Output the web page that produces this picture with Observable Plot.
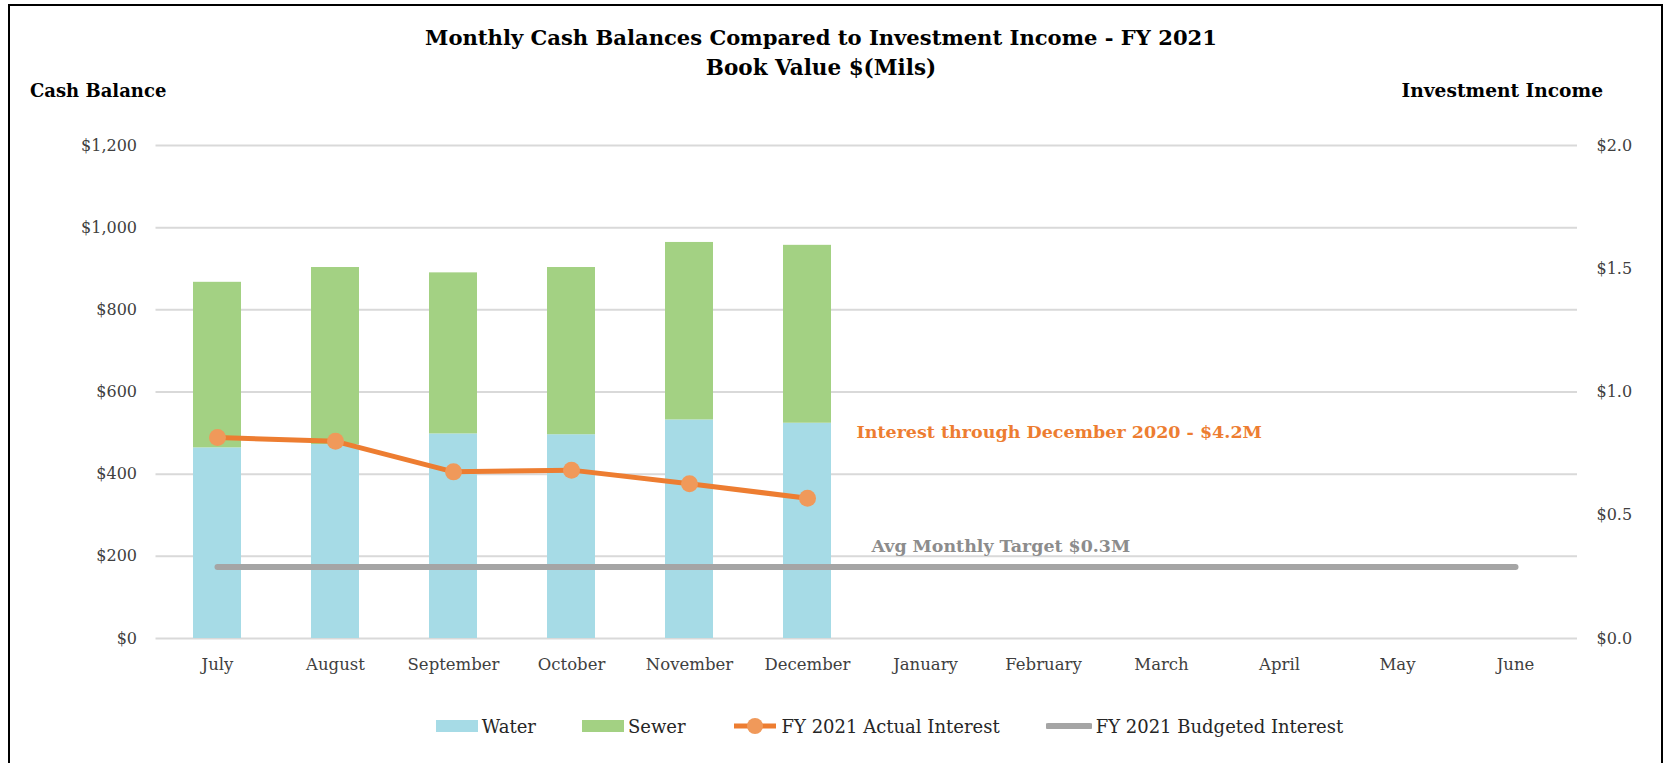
<!DOCTYPE html>
<html><head><meta charset="utf-8">
<script src="https://cdn.jsdelivr.net/npm/d3@7"></script>
<script src="https://cdn.jsdelivr.net/npm/@observablehq/plot@0.6"></script>
<style>
body{margin:0;background:#fff;}
#wrap{position:relative;width:1665px;height:763px;overflow:hidden;background:#fff;font-family:"DejaVu Serif",serif;}
#frame{position:absolute;left:8px;top:4px;width:1655px;height:800px;border:2px solid #000;box-sizing:border-box;}
.t{position:absolute;white-space:nowrap;color:#000;font-weight:bold;line-height:1;}
#chart{position:absolute;left:0;top:100px;}
#legend{position:absolute;left:0;width:1779px;top:714px;height:24px;display:flex;justify-content:center;align-items:center;gap:46px;font-size:18px;color:#262626;}
.item{display:flex;align-items:center;gap:4px;}
.sw{width:42px;height:12px;display:inline-block;}
</style></head>
<body>
<div id="wrap">
  <div id="frame"></div>
  <div class="t" id="title" style="left:0;width:1642px;text-align:center;top:27px;font-size:21.1px;"></div>
  <div class="t" id="subtitle" style="left:0;width:1642px;text-align:center;top:57px;font-size:21.5px;"></div>
  <div class="t" id="ylabL" style="left:30px;top:82px;font-size:18px;"></div>
  <div class="t" id="ylabR" style="right:62px;top:82px;font-size:18.6px;"></div>
  <div id="chart"></div>
  <div id="legend"></div>
</div>
<script>
// ---- data ----
const titleText = "Monthly Cash Balances Compared to Investment Income - FY 2021";
const subtitleText = "Book Value $(Mils)";
const leftAxisTitle = "Cash Balance";
const rightAxisTitle = "Investment Income";
const months = ["July","August","September","October","November","December","January","February","March","April","May","June"];
const water = [464, 472, 498, 496, 532, 524];
const sewer = [403, 431, 392, 407, 432, 433];
const actualInterest = [0.815, 0.800, 0.676, 0.683, 0.628, 0.569];
const budgetedInterest = [0.29, 0.29, 0.29, 0.29, 0.29, 0.29, 0.29, 0.29, 0.29, 0.29, 0.29, 0.29];
const cashTicks = [0, 200, 400, 600, 800, 1000, 1200];
const incomeTicks = [0, 0.5, 1.0, 1.5, 2.0];
const seriesNames = ["Water", "Sewer", "FY 2021 Actual Interest", "FY 2021 Budgeted Interest"];
const seriesColors = ["#A6DBE6", "#A3D183", "#ED7D31", "#A5A5A5"];
const markerColor = "#F0995A";
const annotationTexts = ["Interest through December 2020 - $4.2M", "Avg Monthly Target $0.3M"];
const annotationMonths = ["December", "December"];
const annotationValues = [0.837, 0.374];
const annotationOffsets = [49, 64];
const annotationColors = ["#ED7D31", "#8C8C8C"];

// ---- derived ----
const cashMax = cashTicks[cashTicks.length - 1];
const incomeMax = incomeTicks[incomeTicks.length - 1];
const k = cashMax / incomeMax; // income -> cash-axis units

const barRows = [];
water.forEach((v, i) => {
  barRows.push({month: months[i], type: "Water", value: v});
  barRows.push({month: months[i], type: "Sewer", value: sewer[i]});
});
const actualRows = actualInterest.map((v, i) => ({month: months[i], value: v}));
const budgetRows = budgetedInterest.map((v, i) => ({month: months[i], value: v}));
const annRows = annotationTexts.map((t, i) => ({text: t, month: annotationMonths[i], value: annotationValues[i], color: annotationColors[i], dx: annotationOffsets[i]}));

document.getElementById("title").textContent = titleText;
document.getElementById("subtitle").textContent = subtitleText;
document.getElementById("ylabL").textContent = leftAxisTitle;
document.getElementById("ylabR").textContent = rightAxisTitle;

const fmtCash = d => "$" + d3.format(",")(d);

const chart = Plot.plot({
  width: 1665,
  height: 600,
  marginLeft: 155.5,
  marginRight: 88,
  marginTop: 45,
  marginBottom: 62,
  style: {fontFamily: "DejaVu Serif", fontSize: "16px", color: "#404040", background: "transparent"},
  x: {domain: months, paddingInner: 0.59, paddingOuter: 0.295, label: null},
  y: {domain: [0, cashMax], label: null},
  color: {domain: ["Water", "Sewer"], range: seriesColors.slice(0, 2)},
  marks: [
    Plot.gridY(cashTicks, {stroke: "#D9D9D9", strokeOpacity: 1, strokeWidth: 2}),
    Plot.barY(barRows, {x: "month", y: "value", fill: "type", order: ["Water", "Sewer"]}),
    Plot.line(budgetRows, {x: "month", y: d => d.value * k, stroke: seriesColors[3], strokeWidth: 6, strokeLinecap: "round"}),
    Plot.line(actualRows, {x: "month", y: d => d.value * k, stroke: seriesColors[2], strokeWidth: 5}),
    Plot.dot(actualRows, {x: "month", y: d => d.value * k, r: 8.5, fill: markerColor, stroke: null}),
    Plot.text(annRows.slice(0, 1), {x: "month", y: d => d.value * k, text: "text", fill: "color", textAnchor: "start", dx: annotationOffsets[0], fontWeight: "bold", fontSize: 17.5}),
    Plot.text(annRows.slice(1), {x: "month", y: d => d.value * k, text: "text", fill: "color", textAnchor: "start", dx: annotationOffsets[1], fontWeight: "bold", fontSize: 17.4}),
    Plot.axisY({anchor: "left", ticks: cashTicks, tickFormat: fmtCash, tickSize: 0, tickPadding: 19, label: null}),
    Plot.axisY({anchor: "right", ticks: incomeTicks.map(d => d * k), tickFormat: d => "$" + (d / k).toFixed(1), tickSize: 0, tickPadding: 19, label: null}),
    Plot.axisX({tickSize: 0, tickPadding: 20, label: null, fontSize: 16.5})
  ]
});
document.getElementById("chart").appendChild(chart);

// legend
const legend = document.getElementById("legend");
seriesNames.forEach((name, i) => {
  const item = document.createElement("div");
  item.className = "item";
  if (i < 2) {
    const sw = document.createElement("span");
    sw.className = "sw";
    sw.style.background = seriesColors[i];
    item.appendChild(sw);
  } else {
    const ns = "http://www.w3.org/2000/svg";
    const svg = document.createElementNS(ns, "svg");
    svg.setAttribute("width", 46); svg.setAttribute("height", 20);
    const ln = document.createElementNS(ns, "line");
    ln.setAttribute("x1", 2); ln.setAttribute("x2", 44); ln.setAttribute("y1", 10); ln.setAttribute("y2", 10);
    ln.setAttribute("stroke", seriesColors[i]); ln.setAttribute("stroke-width", i === 2 ? 5 : 6);
    ln.setAttribute("stroke-linecap", i === 2 ? "butt" : "round");
    svg.appendChild(ln);
    if (i === 2) {
      const c = document.createElementNS(ns, "circle");
      c.setAttribute("cx", 23); c.setAttribute("cy", 10); c.setAttribute("r", 8); c.setAttribute("fill", markerColor);
      svg.appendChild(c);
    }
    item.appendChild(svg);
  }
  const tx = document.createElement("span");
  tx.textContent = name;
  item.appendChild(tx);
  legend.appendChild(item);
});
</script>
</body></html>
